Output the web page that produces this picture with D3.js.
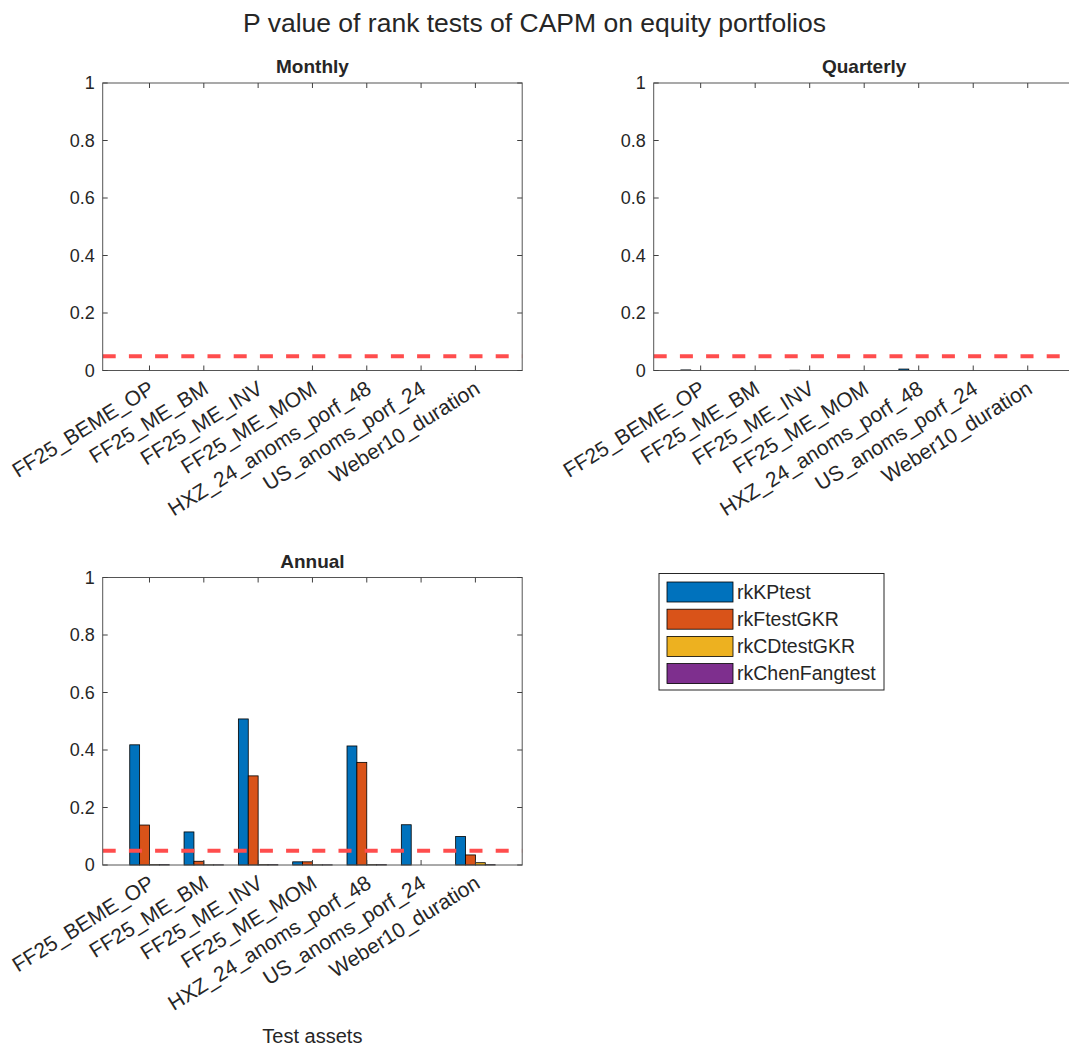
<!DOCTYPE html>
<html>
<head>
<meta charset="utf-8">
<script src="https://cdn.jsdelivr.net/npm/d3@7"></script>
<style>
  body { margin: 0; background: #fff; }
  text { font-family: "Liberation Sans", Arial, sans-serif; fill: #262626; }
  .frame { fill: none; stroke: #555; stroke-width: 1; }
  .tick-mark { stroke: #404040; stroke-width: 1; }
  .bar { stroke: #000; stroke-width: 0.8; }
</style>
</head>
<body>
<div id="chart"></div>
<script>
var assets = ["FF25_BEME_OP", "FF25_ME_BM", "FF25_ME_INV", "FF25_ME_MOM",
              "HXZ_24_anoms_porf_48", "US_anoms_porf_24", "Weber10_duration"];
var tests = ["rkKPtest", "rkFtestGKR", "rkCDtestGKR", "rkChenFangtest"];
var colors = ["#0072BD", "#D95319", "#EDB120", "#7E2F8E"];
var yTicks = [0, 0.2, 0.4, 0.6, 0.8, 1];
var threshold = 0.05;

// p-values per asset: [KP, F, CD, ChenFang]
var monthly = [
  [0, 0, 0, 0], [0, 0, 0, 0], [0, 0, 0, 0], [0, 0, 0, 0],
  [0, 0, 0, 0], [0, 0, 0, 0], [0, 0, 0, 0]
];
var quarterly = [
  [0.002, 0, 0, 0], [0, 0, 0, 0], [0.001, 0, 0, 0], [0, 0, 0, 0],
  [0.005, 0, 0, 0], [0, 0, 0, 0], [0, 0, 0, 0]
];
var annual = [
  [0.418, 0.139, 0.001, 0.001],
  [0.115, 0.013, 0.0005, 0.0005],
  [0.508, 0.310, 0.001, 0.001],
  [0.011, 0.011, 0.0005, 0.0005],
  [0.414, 0.357, 0.001, 0.001],
  [0.140, 0, 0, 0],
  [0.099, 0.035, 0.008, 0.001]
];

var W = 1069, H = 1047;
var svg = d3.select("#chart").append("svg")
    .attr("width", W)
    .attr("height", H);

svg.append("text")
    .attr("x", 534.5)
    .attr("y", 32)
    .attr("text-anchor", "middle")
    .style("font-size", "26.5px")
    .text("P value of rank tests of CAPM on equity portfolios");

function panel(title, data, left, top, width) {
  var height = 287.5;
  var g = svg.append("g").attr("transform", "translate(" + left + "," + top + ")");

  var x = d3.scaleLinear().domain([0.1385, 7.8615]).range([0, width]);
  var y = d3.scaleLinear().domain([0, 1]).range([height, 0]);

  var groupW = 4 / 5.5;
  var barW = groupW / 4;

  // bars
  data.forEach(function(vals, i) {
    vals.forEach(function(v, j) {
      var cx = (i + 1) + (j - 1.5) * barW;
      if (v <= 0) return;
      g.append("rect")
          .attr("class", "bar")
          .attr("x", x(cx - barW / 2))
          .attr("width", x(cx + barW / 2) - x(cx - barW / 2))
          .attr("y", y(v))
          .attr("height", y(0) - y(v))
          .attr("fill", colors[j]);
    });
  });

  // threshold line
  g.append("line")
      .attr("x1", 0).attr("x2", width)
      .attr("y1", y(threshold)).attr("y2", y(threshold))
      .attr("stroke", "#FF4D4D")
      .attr("stroke-width", 4)
      .attr("stroke-dasharray", "13,13.2");

  // box
  g.append("rect").attr("class", "frame")
      .attr("x", 0).attr("y", 0).attr("width", width).attr("height", height);

  // ticks inside, on all four sides
  var tl = 5;
  assets.forEach(function(a, i) {
    var tx = x(i + 1);
    g.append("line").attr("class", "tick-mark")
        .attr("x1", tx).attr("x2", tx).attr("y1", height).attr("y2", height - tl);
    g.append("line").attr("class", "tick-mark")
        .attr("x1", tx).attr("x2", tx).attr("y1", 0).attr("y2", tl);
    g.append("text")
        .attr("text-anchor", "end")
        .attr("transform", "translate(" + (tx - 2) + "," + (height + 9) + ") rotate(-32)")
        .attr("dy", "0.72em")
        .style("font-size", "21px")
        .text(a);
  });
  yTicks.forEach(function(t) {
    var ty = y(t);
    g.append("line").attr("class", "tick-mark")
        .attr("x1", 0).attr("x2", tl).attr("y1", ty).attr("y2", ty);
    g.append("line").attr("class", "tick-mark")
        .attr("x1", width).attr("x2", width - tl).attr("y1", ty).attr("y2", ty);
    g.append("text")
        .attr("x", -8)
        .attr("y", ty)
        .attr("dy", "0.35em")
        .attr("text-anchor", "end")
        .style("font-size", "18px")
        .text(d3.format("~g")(t));
  });

  g.append("text")
      .attr("x", width / 2)
      .attr("y", -10)
      .attr("text-anchor", "middle")
      .style("font-size", "19px")
      .style("font-weight", "bold")
      .text(title);

  return g;
}

panel("Monthly", monthly, 102.7, 83, 419.5);
panel("Quarterly", quarterly, 653.7, 83, 421);
var ga = panel("Annual", annual, 102.7, 577.5, 419.5);

ga.append("text")
    .attr("x", 209.7)
    .attr("y", 465)
    .attr("text-anchor", "middle")
    .style("font-size", "20px")
    .text("Test assets");

// legend
var lg = svg.append("g").attr("transform", "translate(659,573.5)");
lg.append("rect")
    .attr("width", 225).attr("height", 116.5)
    .attr("fill", "#fff").attr("stroke", "#262626").attr("stroke-width", 1);
tests.forEach(function(t, i) {
  var row = lg.append("g").attr("transform", "translate(0," + (8.5 + i * 27.2) + ")");
  row.append("rect")
      .attr("x", 8).attr("y", 0).attr("width", 66).attr("height", 20)
      .attr("fill", colors[i]).attr("stroke", "#000").attr("stroke-width", 0.8);
  row.append("text")
      .attr("x", 78).attr("y", 10).attr("dy", "0.35em")
      .style("font-size", "19.5px")
      .text(t);
});
</script>
</body>
</html>
